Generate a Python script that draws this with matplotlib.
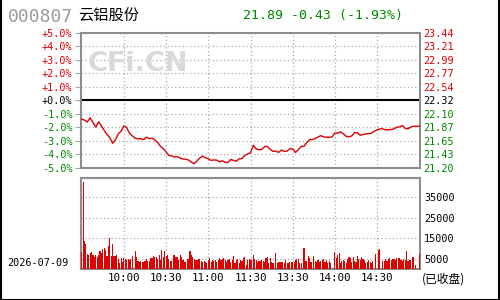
import matplotlib
matplotlib.use("Agg")
import matplotlib.pyplot as plt
import numpy as np
from matplotlib.patches import Rectangle

# ---------------------------------------------------------------
# data (intraday, 9:30 - 15:00)
# ---------------------------------------------------------------
code = "000807"
name = "云铝股份"
date_label = "2026-07-09"
status_label = "(已收盘)"
prev_close = 22.32
last_price = 21.89
change = -0.43
change_pct = -1.93

# percent change vs previous close, one value every 2 minutes (t = 0..240)
pct_change = [
    -1.40, -1.48, -1.62, -1.30, -1.65, -2.00, -1.60, -1.90, -2.25, -2.55,
    -2.78, -3.20, -2.93, -2.50, -2.30, -1.90, -2.05, -2.45, -2.65, -2.82,
    -2.88, -2.85, -2.93, -2.75, -2.85, -2.82, -2.95, -3.15, -3.42, -3.60,
    -3.85, -4.10, -4.15, -4.22, -4.20, -4.30, -4.37, -4.38, -4.45, -4.60,
    -4.72, -4.50, -4.30, -4.15, -4.28, -4.35, -4.47, -4.44, -4.45, -4.58,
    -4.50, -4.62, -4.62, -4.40, -4.48, -4.53, -4.35, -4.33, -4.10, -4.00,
    -3.90, -3.35, -3.62, -3.68, -3.66, -3.45, -3.43, -3.65, -3.80, -3.78,
    -3.88, -3.70, -3.80, -3.78, -3.60, -3.63, -3.88, -3.68, -3.43, -3.42,
    -3.15, -2.93, -2.92, -2.85, -2.73, -2.63, -2.72, -2.75, -2.75, -2.73,
    -2.43, -2.45, -2.35, -2.50, -2.68, -2.72, -2.65, -2.40, -2.42, -2.60,
    -2.55, -2.50, -2.48, -2.45, -2.30, -2.20, -2.13, -2.13, -2.20, -2.20,
    -2.17, -2.13, -2.00, -1.98, -1.88, -2.10, -2.12, -1.98, -1.93, -1.93,
    -1.93,
]

# volume per minute (t = 0..240)
volume = [
    8600, 42400, 13700, 12200, 7400, 6900, 7700, 8400, 6800, 5800,
    6900, 5800, 6900, 9000, 7700, 9700, 10500, 9300, 6400, 11500,
    15300, 6400, 12200, 6400, 6400, 6900, 5000, 3200, 5300, 3700,
    5300, 5000, 4500, 5000, 4500, 5000, 6400, 0, 8800, 5800,
    4200, 3700, 4000, 3700, 3700, 4200, 5000, 4200, 4200, 5300,
    5300, 6400, 5800, 5800, 5000, 6900, 4500, 9300, 5800, 8800,
    6400, 6900, 5000, 4200, 4200, 6900, 6900, 5800, 5800, 4500,
    6900, 5800, 4500, 3700, 3700, 5000, 5000, 8800, 6900, 6000,
    5000, 4500, 4500, 5000, 5000, 4200, 3700, 4200, 3700, 3200,
    4500, 5300, 3700, 4500, 4200, 4500, 3700, 4500, 5300, 4500,
    5000, 5300, 4500, 3700, 4500, 5000, 3700, 4500, 6400, 3200,
    4500, 5000, 3200, 4500, 4200, 5300, 5800, 2100, 4500, 5000,
    4500,
    4500, 6900, 5000, 4500, 3700, 4200, 4000, 4500, 4200, 3700, 5300,
    5800, 3200, 5300, 3700, 3200, 0, 8100, 3200, 3700, 3700, 3400,
    3700, 3200, 4500, 3200, 3200, 3700, 3700, 3700, 3700, 4500,
    5000, 5000, 3200, 3200, 0, 10300, 4200, 4200, 6600, 5300,
    3700, 0, 6600, 4200, 3700, 4500, 3700, 4200, 4500, 5000, 3700,
    4500, 2900, 4200, 3200, 0, 0, 8600, 5300, 6900, 8100,
    3200, 4200, 4500, 4200, 2900, 5000, 5800, 5300, 3700, 5800, 4200,
    3700, 6400, 5000, 4500, 5800, 5000, 4500, 2900, 3700, 4500, 3700,
    3200, 4000, 0, 7400, 0, 9300, 9800, 0, 4200, 4200,
    5000, 4200, 5000, 5300, 4500, 5000, 5000, 4500, 5300, 5300,
    5300, 4500, 4000, 5000, 4500, 8900, 4000, 4500, 4500, 5800,
    5800, 2100, 0, 0, 7400,
]

pct_ticks = [5, 4, 3, 2, 1, 0, -1, -2, -3, -4, -5]
time_ticks = [30, 60, 90, 120, 150, 180, 210]
time_labels = ["10:00", "10:30", "11:00", "11:30", "13:30", "14:00", "14:30"]
vol_ticks = [5000, 15000, 25000, 35000]

RED = "#e00000"
GREEN = "#008800"
GRID = "#a8a8a8"
FRAME = "#8c8c8c"
MONO = "DejaVu Sans Mono"
CJK = ["Noto Sans CJK SC", "DejaVu Sans"]

W, H = 500, 300
fig = plt.figure(figsize=(5, 3), dpi=100)
fig.patch.set_facecolor("white")


def fx(px):
    return px / W


def fy(py):
    return 1 - py / H


def style_frame(ax):
    for s in ax.spines.values():
        s.set_color(FRAME)
        s.set_linewidth(1.5)
    ax.set_facecolor("white")


def sign_colour(v):
    return RED if v > 0 else (GREEN if v < 0 else "black")


# ---------------------------------------------------------------
# price panel
# ---------------------------------------------------------------
ax = fig.add_axes([fx(81), fy(167.5), fx(420) - fx(81), (167.5 - 33) / H])
style_frame(ax)
t_price = np.arange(len(pct_change)) * 2
ax.set_xlim(-0.5, 240.5)
ax.set_ylim(-5, 5)

for v in pct_ticks:
    if v == 0:
        ax.axhline(0, color="black", lw=1.5, zorder=2)
    elif abs(v) < 5:
        ax.axhline(v, color=GRID, lw=0.9, ls=(0, (1, 2)), zorder=1)
for t in time_ticks:
    ax.axvline(t, color=GRID, lw=0.9, ls=(0, (1, 2)), zorder=1)

ax.plot(t_price, pct_change, color=RED, lw=1.0, zorder=3)

ax.set_xticks([])
ax.set_yticks(pct_ticks)
ax.set_yticklabels(["%+.1f%%" % v if v != 0 else "+0.0%" for v in pct_ticks],
                   family=MONO, fontsize=7.3)
ax.tick_params(axis="y", length=4, width=0.8, color=GRID, pad=2)
for lab, v in zip(ax.get_yticklabels(), pct_ticks):
    lab.set_color(sign_colour(v))

# right axis with prices
axr = ax.twinx()
axr.set_ylim(prev_close * 0.95, prev_close * 1.05)
price_ticks = [prev_close * (1 + v / 100) for v in pct_ticks]
axr.set_yticks(price_ticks)
axr.set_yticklabels(["%.2f" % p for p in price_ticks], family=MONO, fontsize=7.3)
axr.tick_params(axis="y", length=0, pad=2)
for lab, v in zip(axr.get_yticklabels(), pct_ticks):
    lab.set_color(sign_colour(v))
for s in axr.spines.values():
    s.set_visible(False)

# watermark
fig.text(fx(138), fy(64), "CFi.CN", fontsize=19.5, fontweight="bold",
         color="#d9d9d9", ha="center", va="center", zorder=0)

# ---------------------------------------------------------------
# volume panel
# ---------------------------------------------------------------
av = fig.add_axes([fx(81), fy(269.3), fx(420) - fx(81), (269.3 - 178.3) / H])
style_frame(av)
t_vol = np.arange(len(volume))
av.bar(t_vol, volume, width=0.8, color=RED, linewidth=0, zorder=3)
av.set_xlim(-0.5, 240.5)
av.set_ylim(0, 44000)
for v in vol_ticks:
    av.axhline(v, color=GRID, lw=0.9, ls=(0, (1, 2)), zorder=1)
for t in time_ticks:
    av.axvline(t, color=GRID, lw=0.9, ls=(0, (1, 2)), zorder=1)

av.yaxis.tick_right()
av.set_yticks(vol_ticks)
av.set_yticklabels([str(v) for v in vol_ticks], family=MONO, fontsize=7.3)
av.tick_params(axis="y", length=0, pad=3)
av.set_xticks(time_ticks)
av.set_xticklabels(time_labels, family=MONO, fontsize=7.8)
av.tick_params(axis="x", length=0, pad=3)

# ---------------------------------------------------------------
# header / footer texts
# ---------------------------------------------------------------
fig.text(fx(8), fy(16.5), code, family=MONO, fontsize=13, color="#9a9a9a",
         ha="left", va="center")
fig.text(fx(78), fy(16), name, family=CJK, fontsize=11, color="black",
         ha="left", va="center")
fig.text(fx(243), fy(15.5), "%.2f %.2f (%.2f%%)" % (last_price, change, change_pct),
         family=MONO, fontsize=9.5, color=GREEN, ha="left", va="center")
fig.text(fx(7), fy(262.5), date_label, family=MONO, fontsize=7.3, color="black",
         ha="left", va="center")
fig.text(fx(422), fy(279.5), status_label, family=CJK, fontsize=8.5, color="black",
         ha="left", va="center")

# outer black border (left, right, bottom)
fig.patches.append(Rectangle((0.001, 0.001), 0.997, 1.2, transform=fig.transFigure,
                             fill=False, edgecolor="black", lw=1.5, clip_on=False))

fig.savefig("out.png", dpi=100)
